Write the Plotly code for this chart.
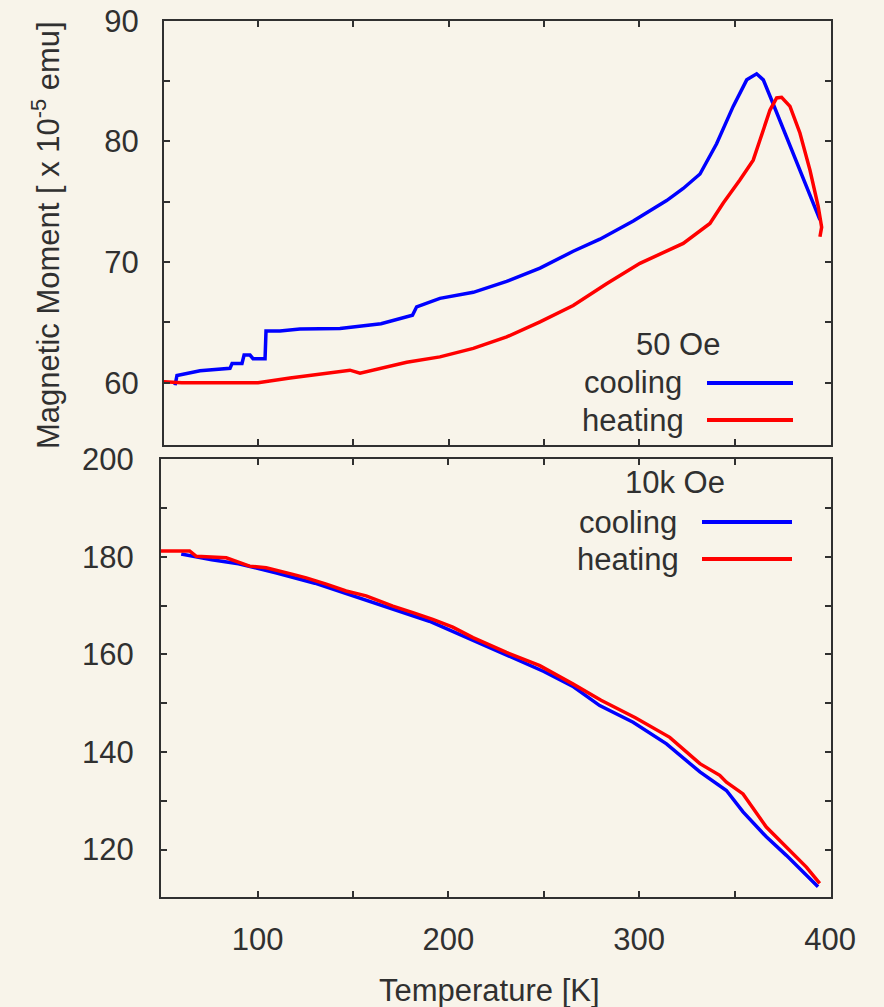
import plotly.graph_objects as go

# ---- 50 Oe measurement ----
cool_50_T = [56.5, 57.5, 69.6, 77.5, 85.3, 86.4, 91.6, 92.7, 95.8, 97.4, 103.7, 104.2,
             111.5, 122, 143, 164.5, 178, 181, 183.2, 195.4, 212.9, 230.4, 247.9, 265.3,
             279.3, 296.8, 314.3, 323, 331.8, 340.5, 349.2, 356.3, 361.5, 365, 370.2,
             377.2, 384.2, 391.2, 394.7]
cool_50_M = [59.8, 60.6, 61.0, 61.1, 61.2, 61.6, 61.6, 62.3, 62.3, 62.0, 62.0, 64.3,
             64.3, 64.45, 64.5, 64.9, 65.5, 65.6, 66.3, 67.0, 67.5, 68.4, 69.5, 70.9,
             71.9, 73.4, 75.1, 76.1, 77.3, 79.8, 82.9, 85.1, 85.6, 85.1, 83.1,
             80.4, 77.6, 74.9, 73.5]

heat_50_T = [49.5, 60, 80, 100, 116.8, 130, 148.2, 153.5, 178, 195.4, 212.9, 230.4,
             247.9, 265.3, 282.8, 300.3, 323, 337, 344, 352.7, 359.7, 363.2, 368.5,
             372, 374.6, 379, 384.2, 389.5, 393.8, 395.6, 394.7]
heat_50_M = [60.1, 60.0, 60.0, 60.0, 60.4, 60.7, 61.05, 60.8, 61.7, 62.15, 62.85, 63.8,
             65.05, 66.4, 68.2, 69.9, 71.55, 73.2, 74.9, 76.8, 78.45, 80.1, 82.6,
             83.6, 83.65, 82.9, 80.7, 77.6, 74.6, 72.9, 72.1]

# ---- 10k Oe measurement ----
cool_10k_T = [60, 76, 90, 110, 130, 150, 170, 190, 210, 230, 250, 265, 279.3, 296.8,
              314.3, 331.8, 345.7, 354.4, 366.6, 377.1, 387.6, 393.7]
cool_10k_M = [180.6, 179.4, 178.6, 176.7, 174.6, 172.0, 169.4, 166.8, 163.4, 159.9,
              156.5, 153.5, 149.5, 146.1, 141.65, 135.9, 132.1, 127.7, 122.6, 118.8,
              114.75, 112.35]

heat_10k_T = [48.7, 64.4, 67.9, 83.6, 95.8, 104.5, 118.5, 125.5, 136, 146.4, 156.9,
              170.9, 181.4, 191.8, 202.3, 212.9, 230.4, 247.9, 265.4, 280, 298, 316,
              331.8, 342.2, 345.7, 354.4, 366.6, 377.1, 387.6, 394.6]
heat_10k_M = [181.2, 181.2, 180.1, 179.8, 178.1, 177.75, 176.4, 175.7, 174.4, 173.0,
              172.0, 169.9, 168.55, 167.2, 165.6, 163.45, 160.4, 157.7, 153.9, 150.6,
              147.0, 143.0, 137.6, 135.2, 133.8, 131.4, 124.6, 120.5, 116.4, 113.05]

# ---- ticks (labelled majors + unlabelled minors) ----
x_tickvals = [100, 200, 300, 400]
x_minor = [150, 250, 350]
top_tickvals = [60, 70, 80, 90]
top_minor = [65, 75, 85]
bot_tickvals = [120, 140, 160, 180, 200]
bot_minor = [130, 150, 170, 190]

W, H = 884, 1007
BG = "#f8f4ea"
INK = "#303030"
BLUE = "#0000ff"
RED = "#ff0000"
FONT = "Liberation Sans, Arial, sans-serif"
FS = 31


def px(x):
    return x / W


def py(y):
    return (H - y) / H


fig = go.Figure()
line_w = 3.5
fig.add_trace(go.Scatter(x=cool_50_T, y=cool_50_M, mode="lines",
                         line=dict(color=BLUE, width=line_w), xaxis="x", yaxis="y"))
fig.add_trace(go.Scatter(x=heat_50_T, y=heat_50_M, mode="lines",
                         line=dict(color=RED, width=line_w), xaxis="x", yaxis="y"))
fig.add_trace(go.Scatter(x=cool_10k_T, y=cool_10k_M, mode="lines",
                         line=dict(color=BLUE, width=line_w), xaxis="x2", yaxis="y2"))
fig.add_trace(go.Scatter(x=heat_10k_T, y=heat_10k_M, mode="lines",
                         line=dict(color=RED, width=line_w), xaxis="x2", yaxis="y2"))

axis_common = dict(showline=True, linecolor=INK, linewidth=2, mirror="allticks",
                   ticks="inside", ticklen=6, tickwidth=1.5, tickcolor=INK,
                   showgrid=False, zeroline=False, tickmode="array", automargin=False,
                   tickfont=dict(family=FONT, size=FS, color=INK))


def minor(vals):
    return dict(tickmode="array", tickvals=vals, ticks="inside", ticklen=6,
                tickwidth=1.5, tickcolor=INK, showgrid=False)


fig.update_layout(
    width=W, height=H,
    margin=dict(l=0, r=0, t=0, b=0, autoexpand=False),
    paper_bgcolor=BG, plot_bgcolor=BG,
    showlegend=False,
    font=dict(family=FONT, size=FS, color=INK),
    xaxis=dict(domain=[px(164), px(831)], range=[50.7, 400.5], anchor="y",
               tickvals=x_tickvals, showticklabels=False, minor=minor(x_minor),
               **axis_common),
    yaxis=dict(domain=[py(445), py(20.7)], range=[54.85, 90], anchor="x",
               tickvals=top_tickvals, ticklabelstandoff=17, minor=minor(top_minor),
               **axis_common),
    xaxis2=dict(domain=[px(161), px(831)], range=[49.4, 400.5], anchor="y2",
                tickvals=x_tickvals, ticklabelstandoff=13, minor=minor(x_minor),
                **axis_common),
    yaxis2=dict(domain=[py(897.3), py(459.3)], range=[110.2, 200.0], anchor="x2",
                tickvals=bot_tickvals, ticklabelstandoff=19, minor=minor(bot_minor),
                **axis_common),
)

ann = [
    dict(text="Magnetic Moment [ x 10<sup>-5</sup> emu]", x=px(46), y=py(235),
         textangle=-90, xanchor="center", yanchor="middle"),
    dict(text="Temperature [K]", x=px(489), y=py(990), xanchor="center", yanchor="middle"),
    dict(text="50 Oe", x=px(678), y=py(345), xanchor="center", yanchor="middle"),
    dict(text="cooling", x=px(684), y=py(383), xanchor="right", yanchor="middle"),
    dict(text="heating", x=px(686), y=py(420), xanchor="right", yanchor="middle"),
    dict(text="10k Oe", x=px(675), y=py(482), xanchor="center", yanchor="middle"),
    dict(text="cooling", x=px(679), y=py(522), xanchor="right", yanchor="middle"),
    dict(text="heating", x=px(681), y=py(559), xanchor="right", yanchor="middle"),
]
for a in ann:
    fig.add_annotation(xref="paper", yref="paper", showarrow=False,
                       font=dict(family=FONT, size=FS, color=INK), **a)

# legend swatches
for (x0, x1, y, c) in [(707, 793, 383, BLUE), (707, 793, 420, RED),
                       (702, 792, 522, BLUE), (702, 792, 559, RED)]:
    fig.add_shape(type="line", xref="paper", yref="paper",
                  x0=px(x0), x1=px(x1), y0=py(y), y1=py(y),
                  line=dict(color=c, width=4))

fig.write_html("out.html")
